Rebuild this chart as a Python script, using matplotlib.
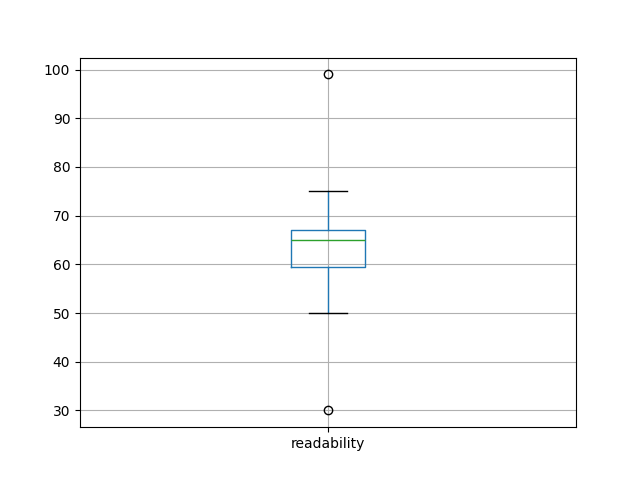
import pandas as pd
import matplotlib
matplotlib.use('Agg')
import matplotlib.pyplot as plt

# readability scores
readability = [30, 50, 59.5, 62, 65, 66, 67, 75, 99]

df = pd.DataFrame({'readability': readability})

fig, ax = plt.subplots(figsize=(6.4, 4.8), dpi=100)
df.boxplot(column=['readability'], ax=ax)

fig.savefig('out.png')
